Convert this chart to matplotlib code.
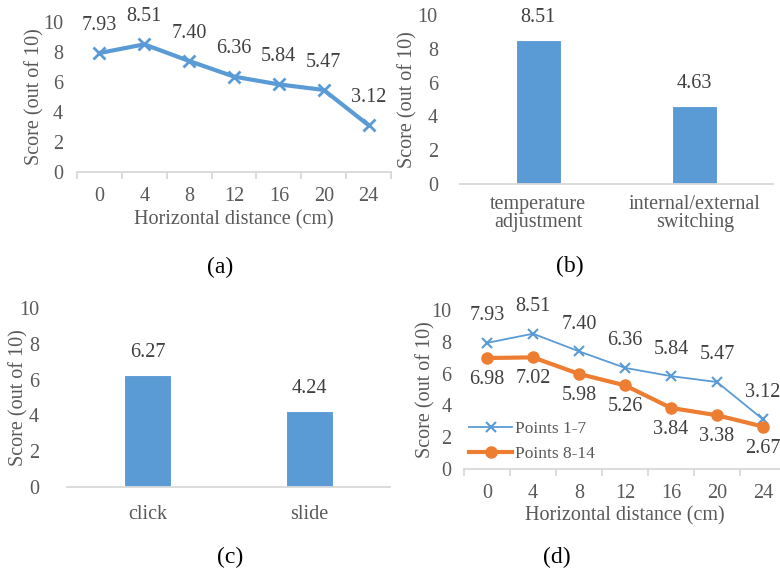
import numpy as np
import matplotlib
matplotlib.use("Agg")
import matplotlib.pyplot as plt

# ── Data ──────────────────────────────────────────────────────────────────────
distances   = ["0", "4", "8", "12", "16", "20", "24"]
scores_1_7  = [7.93, 8.51, 7.40, 6.36, 5.84, 5.47, 3.12]
scores_8_14 = [6.98, 7.02, 5.98, 5.26, 3.84, 3.38, 2.67]

functions   = ["temperature\nadjustment", "internal/external\nswitching"]
func_scores = [8.51, 4.63]

gestures    = ["click", "slide"]
gest_scores = [6.27, 4.24]

# ── Style ─────────────────────────────────────────────────────────────────────
BLUE   = "#5B9BD5"
ORANGE = "#ED7D31"
TXT    = "#595959"
AXIS   = "#D9D9D9"
FS     = 14.5

plt.rcParams["font.family"] = ["Liberation Serif", "DejaVu Serif"]
plt.rcParams["text.color"] = TXT

W, H = 780, 573
fig = plt.figure(figsize=(W / 100, H / 100), dpi=100)


def add_axes_px(left, right, bottom, top):
    return fig.add_axes([left / W, 1 - bottom / H, (right - left) / W, (bottom - top) / H])


def style_axes(ax, n, ypad, xticks_marks, ylab_right_px, left, right):
    ax.set_xlim(-0.5, n - 0.5)
    ax.set_ylim(0, 10)
    ax.set_yticks(range(0, 11, 2))
    for s in ["left", "right", "top"]:
        ax.spines[s].set_visible(False)
    ax.spines["bottom"].set_color(AXIS)
    ax.spines["bottom"].set_linewidth(1.3)
    ax.tick_params(axis="y", length=0, pad=ypad, labelsize=FS, labelcolor=TXT)
    ax.tick_params(axis="x", which="major", length=0, pad=11, labelsize=FS, labelcolor=TXT)
    if xticks_marks:
        ax.set_xticks(np.arange(-0.5, n, 1.0), minor=True)
        ax.tick_params(axis="x", which="minor", length=5, width=1.3, color=AXIS, direction="out")
    ax.patch.set_alpha(0)
    ax.set_ylabel("Score (out of 10)", fontsize=FS, color=TXT)
    ax.yaxis.set_label_coords((ylab_right_px - left) / (right - left), 0.5)


# ── (a) line chart ────────────────────────────────────────────────────────────
ax_a = add_axes_px(77, 391, 172, 22)
x = np.arange(len(distances))
ax_a.plot(x, scores_1_7, color=BLUE, lw=3, marker="x", ms=8, mew=2)
ax_a.set_xticks(x)
ax_a.set_xticklabels(distances)
style_axes(ax_a, len(distances), 10, True, 44, 77, 391)
ax_a.set_xlabel("Horizontal distance (cm)", fontsize=FS, color=TXT, labelpad=3)
for xi, v in zip(x, scores_1_7):
    ax_a.annotate(f"{v:.2f}", (xi, v), xytext=(0, 20), textcoords="offset points",
                  ha="center", va="center", fontsize=FS, color="#404040")

# ── (b) bar chart ─────────────────────────────────────────────────────────────
ax_b = add_axes_px(460, 773, 184, 15)
xb = np.arange(len(functions))
ax_b.bar(xb, func_scores, width=0.29, color=BLUE, edgecolor="white", linewidth=0.8)
ax_b.set_xticks(xb)
ax_b.set_xticklabels(functions, linespacing=0.95)
style_axes(ax_b, len(functions), 16, False, 417, 460, 773)
ax_b.tick_params(axis="x", pad=8)
for xi, v in zip(xb, func_scores):
    ax_b.annotate(f"{v:.2f}", (xi, v), xytext=(0, 16), textcoords="offset points",
                  ha="center", va="center", fontsize=FS, color="#404040")

# ── (c) bar chart ─────────────────────────────────────────────────────────────
ax_c = add_axes_px(67, 390, 487, 308)
xc = np.arange(len(gestures))
ax_c.bar(xc, gest_scores, width=0.29, color=BLUE, edgecolor="white", linewidth=0.8)
ax_c.set_xticks(xc)
ax_c.set_xticklabels(gestures)
style_axes(ax_c, len(gestures), 20, False, 28, 67, 390)
ax_c.tick_params(axis="x", pad=13)
for xi, v in zip(xc, gest_scores):
    ax_c.annotate(f"{v:.2f}", (xi, v), xytext=(0, 16), textcoords="offset points",
                  ha="center", va="center", fontsize=FS, color="#404040")

# ── (d) two lines ─────────────────────────────────────────────────────────────
ax_d = add_axes_px(464, 786, 469, 310)
xd = np.arange(len(distances))
ax_d.plot(xd, scores_1_7, color=BLUE, lw=1.3, marker="x", ms=7, mew=1.5, label="Points 1-7")
ax_d.plot(xd, scores_8_14, color=ORANGE, lw=3, marker="o", ms=8, label="Points 8-14")
ax_d.set_xticks(xd)
ax_d.set_xticklabels(distances)
style_axes(ax_d, len(distances), 9, True, 435, 464, 786)
ax_d.set_xlabel("Horizontal distance (cm)", fontsize=FS, color=TXT, labelpad=2)
for xi, v in zip(xd, scores_1_7):
    ax_d.annotate(f"{v:.2f}", (xi, v), xytext=(0, 19.5), textcoords="offset points",
                  ha="center", va="center", fontsize=FS, color="#404040")
for xi, v in zip(xd, scores_8_14):
    ax_d.annotate(f"{v:.2f}", (xi, v), xytext=(0, -15.5), textcoords="offset points",
                  ha="center", va="center", fontsize=FS, color="#404040")
ax_d.legend(loc="lower left", bbox_to_anchor=(0.005, 0.02), frameon=False, fontsize=12.5,
            handlelength=2.5, handletextpad=0.15, labelspacing=0.55, borderaxespad=0.0,
            borderpad=0.2, labelcolor=TXT)

# ── Panel letters ─────────────────────────────────────────────────────────────
for lbl, px, py in [("(a)", 220, 267), ("(b)", 570, 266), ("(c)", 230, 557), ("(d)", 557, 557)]:
    fig.text(px / W, 1 - py / H, lbl, ha="center", va="center", fontsize=17, color="black")

fig.savefig("out.png", dpi=100)
